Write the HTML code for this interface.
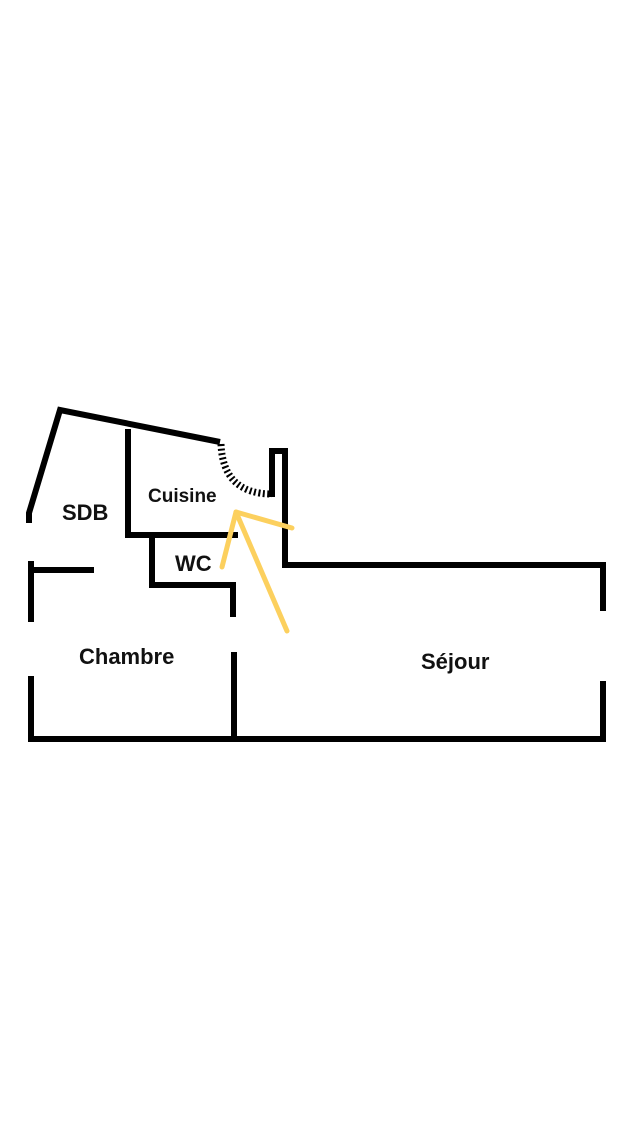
<!DOCTYPE html>
<html><head><style>
html,body{margin:0;padding:0;background:#fff;width:640px;height:1136px;overflow:hidden}
svg{position:absolute;left:0;top:0}
text{font-family:"Liberation Sans",sans-serif;font-weight:bold;fill:#111}
</style></head><body>
<svg width="640" height="1136" viewBox="0 0 640 1136">
<g stroke="#000" stroke-width="6" fill="none" stroke-linejoin="miter" stroke-linecap="butt">
<polyline points="29,523 29,513 60,410 220,442"/>
<polyline points="128,429 128,535 238,535"/>
<polyline points="152,535 152,585 233,585 233,617"/>
<polyline points="272,497 272,451 285,451 285,565 603,565 603,611"/>
<polyline points="31,561 31,622"/>
<line x1="31" y1="570" x2="94" y2="570"/>
<polyline points="31,676 31,739 603,739 603,681"/>
<line x1="234" y1="652" x2="234" y2="739"/>
<path d="M221,444 Q223,494 272,494" stroke-width="7" stroke-dasharray="2,2.5"/>
</g>
<g stroke="#fcd05e" stroke-width="5" stroke-linecap="round" fill="none">
<line x1="236" y1="512" x2="222" y2="567"/>
<line x1="236" y1="512" x2="292" y2="528"/>
<line x1="236" y1="512" x2="287" y2="631"/>
</g>
<text x="62" y="520" font-size="22">SDB</text>
<text x="148" y="502" font-size="19">Cuisine</text>
<text x="175" y="571" font-size="22">WC</text>
<text x="79" y="664" font-size="22">Chambre</text>
<text x="421" y="669" font-size="22">Séjour</text>
</svg>
</body></html>
